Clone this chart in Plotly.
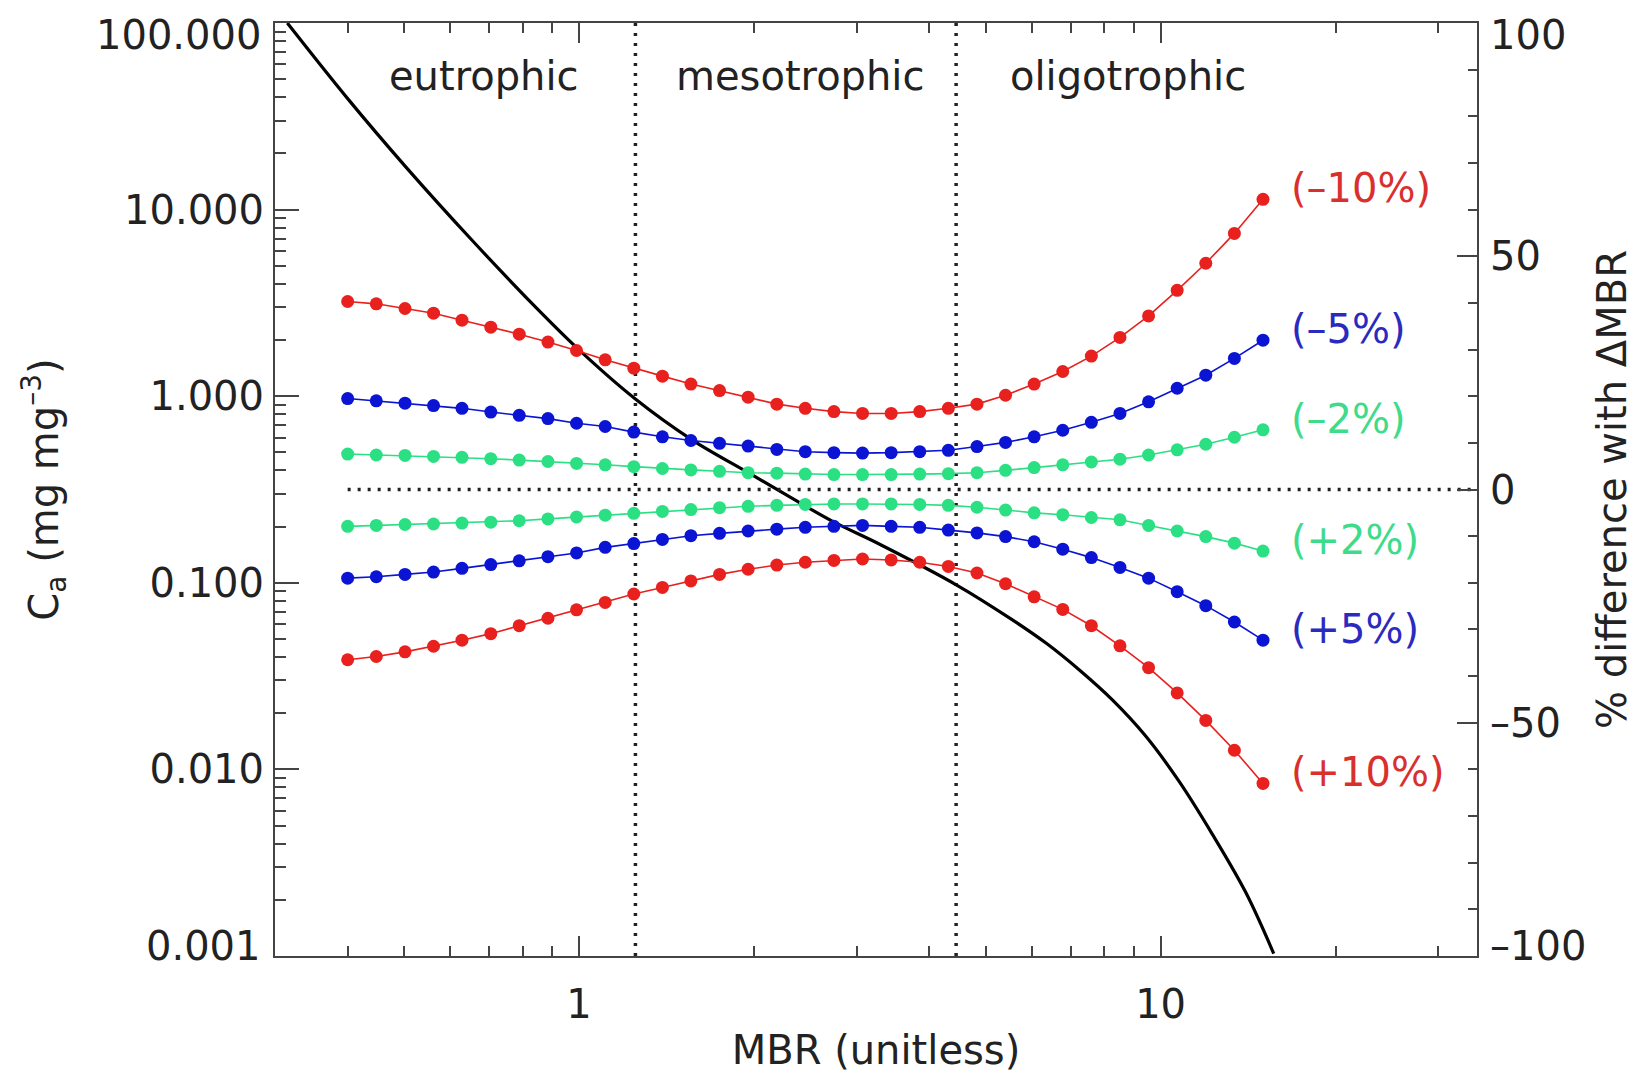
import numpy as np
import plotly.graph_objects as go

FONT = "DejaVu Sans, Liberation Sans, Arial, sans-serif"
FS = 40
AX = "#444444"
TXT = "#222222"

# ---------------- data ----------------
mbr = [0.400, 0.448, 0.502, 0.562, 0.629, 0.705, 0.789, 0.884, 0.990, 1.109,
       1.242, 1.391, 1.557, 1.744, 1.953, 2.188, 2.449, 2.743, 3.072, 3.441,
       3.853, 4.315, 4.833, 5.412, 6.061, 6.788, 7.602, 8.514, 9.535, 10.678,
       11.959, 13.393, 15.000]

pct_minus10 = [40.3, 39.8, 38.8, 37.8, 36.3, 34.8, 33.3, 31.6, 29.8, 27.8,
               26.0, 24.3, 22.6, 21.2, 19.8, 18.3, 17.4, 16.7, 16.3, 16.3,
               16.7, 17.4, 18.3, 20.2, 22.6, 25.3, 28.6, 32.6, 37.2, 42.7,
               48.5, 54.9, 62.2]
pct_minus5 = [19.5, 19.0, 18.5, 18.0, 17.4, 16.6, 15.9, 15.2, 14.2, 13.5,
              12.3, 11.3, 10.5, 9.9, 9.3, 8.6, 8.1, 7.9, 7.8, 7.9,
              8.1, 8.4, 9.2, 10.1, 11.3, 12.7, 14.4, 16.3, 18.8, 21.7,
              24.5, 28.1, 32.0]
pct_minus2 = [7.6, 7.4, 7.3, 7.1, 6.9, 6.6, 6.3, 6.0, 5.6, 5.3,
              4.9, 4.5, 4.2, 3.9, 3.6, 3.5, 3.3, 3.2, 3.2, 3.2,
              3.3, 3.4, 3.6, 4.1, 4.7, 5.3, 5.9, 6.5, 7.4, 8.5,
              9.7, 11.2, 12.8]
pct_plus2 = [-7.9, -7.7, -7.5, -7.4, -7.2, -7.0, -6.7, -6.3, -5.9, -5.5,
             -5.1, -4.7, -4.3, -3.9, -3.6, -3.4, -3.2, -3.1, -3.1, -3.1,
             -3.2, -3.4, -3.8, -4.4, -5.0, -5.4, -6.0, -6.5, -7.7, -8.9,
             -10.1, -11.5, -13.2]
pct_plus5 = [-19.0, -18.7, -18.2, -17.7, -16.9, -16.1, -15.3, -14.4, -13.6, -12.4,
             -11.6, -10.7, -9.9, -9.4, -8.9, -8.5, -8.1, -7.9, -7.7, -7.9,
             -8.1, -8.7, -9.3, -10.1, -11.2, -12.8, -14.6, -16.7, -19.0, -21.9,
             -24.9, -28.4, -32.3]
pct_plus10 = [-36.5, -35.8, -34.8, -33.6, -32.3, -30.9, -29.2, -27.6, -25.8, -24.2,
              -22.4, -21.0, -19.6, -18.2, -17.1, -16.2, -15.6, -15.2, -14.9, -15.1,
              -15.6, -16.5, -17.9, -20.2, -23.0, -25.7, -29.2, -33.5, -38.2, -43.6,
              -49.5, -55.9, -63.0]

chl_mbr = [0.315, 0.402, 0.503, 0.654, 0.851, 1.0, 1.245, 1.566, 1.964, 2.35,
           2.74, 3.30, 4.46, 5.57, 6.36, 7.25, 8.27, 9.44, 10.76, 12.27,
           14.0, 15.65]
chl_val = [100.0, 38.6, 17.0, 6.87, 2.90, 1.77, 0.975, 0.582, 0.386, 0.278,
           0.212, 0.160, 0.0973, 0.0631, 0.0474, 0.0341, 0.0235, 0.0150, 0.00862, 0.0045,
           0.0022, 0.00103]

trophic_bounds = [1.25, 4.45]
region_names = ["eutrophic", "mesotrophic", "oligotrophic"]
region_pos = [0.174, 0.437, 0.710]  # paper fractions

x_range = [0.3, 35.0]
y_ticks = [0.001, 0.01, 0.1, 1, 10, 100]
y_ticktext = ["0.001", "0.010", "0.100", "1.000", "10.000", "100.000"]
x_ticks = [1, 10]
x_ticktext = ["1", "10"]
y2_ticks = [-100, -50, 0, 50, 100]
y2_ticktext = ["\u2013100", "\u201350", "0", "50", "100"]

RED = "#E8211E"
BLUE = "#0A14D2"
GREEN = "#2BE083"
series = [
    ("(\u201310%)", pct_minus10, RED, "#D9302E"),
    ("(\u20135%)", pct_minus5, BLUE, "#2A2ABF"),
    ("(\u20132%)", pct_minus2, GREEN, "#3EDB8A"),
    ("(+2%)", pct_plus2, GREEN, "#3EDB8A"),
    ("(+5%)", pct_plus5, BLUE, "#2A2ABF"),
    ("(+10%)", pct_plus10, RED, "#D9302E"),
]

fig = go.Figure()

# trophic boundaries (vertical dotted)
for b in trophic_bounds:
    fig.add_trace(go.Scatter(x=[b, b], y=[y_ticks[0], y_ticks[-1]], mode="lines",
                             line=dict(color="#222222", width=3.5, dash="3px,7px"),
                             hoverinfo="skip", showlegend=False))

# zero line on the right axis
fig.add_trace(go.Scatter(x=[mbr[0], x_range[1]], y=[0, 0], yaxis="y2", mode="lines",
                         line=dict(color="#222222", width=3.5, dash="3px,7px"),
                         hoverinfo="skip", showlegend=False))

# Chl curve
fig.add_trace(go.Scatter(x=chl_mbr, y=chl_val, mode="lines",
                         line=dict(color="black", width=3.2, shape="spline", smoothing=1.0),
                         showlegend=False))

annotations = []
for label, vals, col, tcol in series:
    fig.add_trace(go.Scatter(x=mbr, y=vals, yaxis="y2", mode="lines+markers",
                             line=dict(color=col, width=1.6),
                             marker=dict(color=col, size=13),
                             showlegend=False, name=label))
    annotations.append(dict(x=np.log10(mbr[-1]), y=vals[-1], xref="x", yref="y2",
                            text=label, showarrow=False, xanchor="left", yanchor="middle",
                            xshift=26, yshift=11, font=dict(family=FONT, size=FS, color=tcol)))

for name, px in zip(region_names, region_pos):
    annotations.append(dict(x=px, y=0.943, xref="paper", yref="paper", text=name,
                            showarrow=False, xanchor="center", yanchor="middle",
                            font=dict(family=FONT, size=FS, color=TXT)))

tickfont = dict(family=FONT, size=FS, color=TXT)

# end tick labels sit just inside the axis ends (as in the reference)
left_text = [""] + y_ticktext[1:-1] + [""]
right_text = [""] + y2_ticktext[1:-1] + [""]
for val, txt, shift in [(y_ticks[0], y_ticktext[0], 10), (y_ticks[-1], y_ticktext[-1], -12)]:
    annotations.append(dict(x=0, y=np.log10(val), xref="paper", yref="y", text=txt,
                            showarrow=False, xanchor="right", yanchor="middle",
                            xshift=-12, yshift=shift, font=tickfont))
for val, txt, shift in [(y2_ticks[0], y2_ticktext[0], 10), (y2_ticks[-1], y2_ticktext[-1], -12)]:
    annotations.append(dict(x=1, y=val, xref="paper", yref="y2", text=txt,
                            showarrow=False, xanchor="left", yanchor="middle",
                            xshift=11, yshift=shift, font=tickfont))

x_minor = [m / 10 for m in range(4, 10)] + list(range(2, 10)) + [20, 30]
y_minor = [m * 10.0 ** e for e in range(-3, 2) for m in range(2, 10)]

fig.update_layout(
    width=1644, height=1074,
    margin=dict(l=275, r=167, t=23, b=118),
    paper_bgcolor="white", plot_bgcolor="white",
    showlegend=False,
    annotations=annotations,
    xaxis=dict(type="log", range=[np.log10(x_range[0]), np.log10(x_range[1])],
               automargin=False,
               tickmode="array", tickvals=x_ticks, ticktext=x_ticktext,
               ticks="inside", ticklen=20, tickwidth=2, tickcolor=AX,
               showline=True, linecolor=AX, linewidth=2, mirror="ticks",
               showgrid=False, zeroline=False, tickfont=tickfont,
               ticklabelstandoff=12,
               minor=dict(tickmode="array", tickvals=x_minor, ticks="inside",
                          ticklen=10, tickwidth=2, tickcolor=AX, showgrid=False),
               title=dict(text="MBR (unitless)", font=tickfont, standoff=10)),
    yaxis=dict(type="log", range=[-3, 2], automargin=False,
               tickmode="array", tickvals=y_ticks, ticktext=left_text,
               ticks="inside", ticklen=24, tickwidth=2, tickcolor=AX,
               showline=True, linecolor=AX, linewidth=2,
               showgrid=False, zeroline=False, tickfont=tickfont,
               ticklabelstandoff=1,
               minor=dict(tickmode="array", tickvals=y_minor, ticks="inside",
                          ticklen=11, tickwidth=2, tickcolor=AX, showgrid=False),
               title=dict(text="C<sub>a</sub> (mg mg<sup>\u20133</sup>)", font=tickfont, standoff=53)),
    yaxis2=dict(overlaying="y", side="right", range=[-100, 100], automargin=False,
                tickmode="array", tickvals=y2_ticks, ticktext=right_text,
                ticks="inside", ticklen=20, tickwidth=2, tickcolor=AX,
                showline=True, linecolor=AX, linewidth=2,
                showgrid=False, zeroline=False, tickfont=tickfont,
                ticklabelstandoff=3,
                minor=dict(dtick=10, tick0=0, ticks="inside", ticklen=9,
                           tickwidth=2, tickcolor=AX, showgrid=False),
                title=dict(text="% difference with \u0394MBR", font=tickfont, standoff=38)),
)

fig.write_html("out.html", config={"displayModeBar": False},
               post_script="document.body.style.margin='0';")
